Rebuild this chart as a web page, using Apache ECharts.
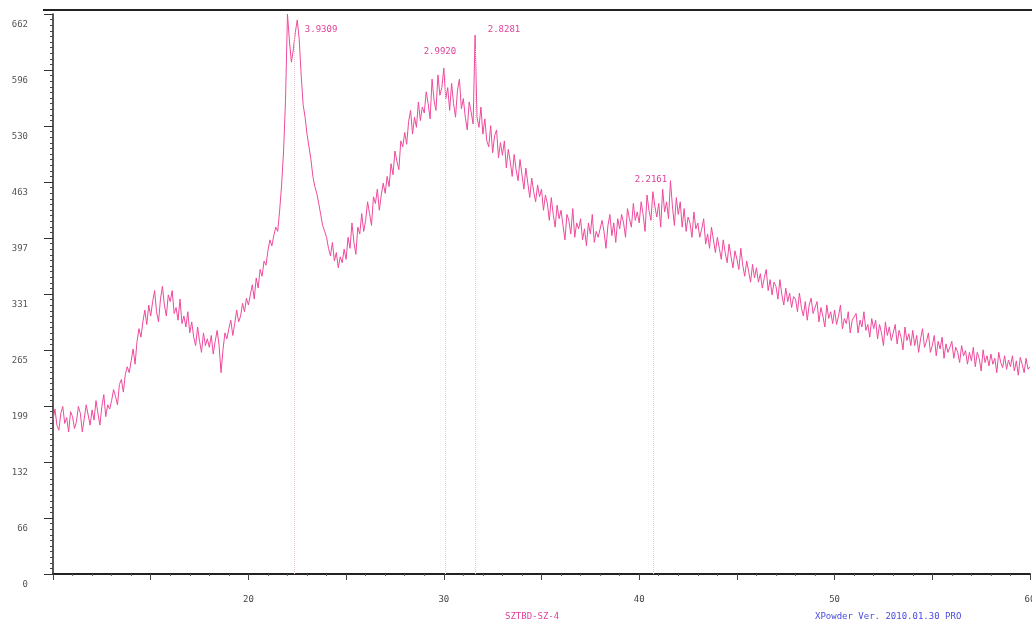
<!DOCTYPE html>
<html>
<head>
<meta charset="utf-8">
<script src="https://cdn.jsdelivr.net/npm/echarts@6/dist/echarts.min.js"></script>
<style>html,body{margin:0;padding:0;background:#fff}#c{width:1032px;height:630px}</style>
</head>
<body>
<div id="c"></div>
<script>
// 2-theta grid: start and step of the scan (degrees)
var twoThetaStart = 10;
var twoThetaStep = 0.1;
// intensity (counts), one value per 0.1 degree from 10.0 to 60.0
var intensity = [
182,195,176,170,190,198,178,185,168,192,
186,172,180,198,190,168,184,200,188,176,
194,182,205,190,176,198,212,186,200,195,
205,218,210,200,224,230,215,236,245,238,
252,266,248,275,290,280,298,312,295,318,
305,322,335,310,298,325,340,318,305,330,
322,335,308,315,300,325,296,305,292,310,
285,298,280,270,292,275,262,285,270,278,
268,282,260,275,288,270,238,265,285,278,
290,300,282,296,312,298,305,320,310,326,
318,330,342,325,350,338,360,352,370,365,
382,395,388,400,410,405,430,460,500,560,
662,630,605,620,640,655,632,590,555,540,
520,505,490,470,458,450,438,425,412,405,
398,385,376,392,370,380,362,375,368,384,
372,398,385,415,392,378,410,402,426,405,
418,440,426,412,446,438,455,430,448,462,
450,470,458,485,472,500,488,478,512,505,
522,508,535,548,520,540,528,558,536,552,
545,570,556,538,585,560,548,590,566,575,
598,562,575,548,580,556,540,572,585,550,
562,540,525,558,546,532,637,540,528,552,
520,538,512,505,530,498,518,525,492,510,
495,512,480,502,488,470,496,478,465,490,
472,455,480,462,445,468,452,440,460,446,
455,430,448,438,418,445,425,410,436,420,
430,412,395,425,418,402,432,398,415,408,
420,395,408,388,415,402,425,392,405,398,
398,418,405,385,412,425,400,415,392,420,
408,425,415,398,432,420,410,438,418,428,
415,440,425,405,448,430,418,452,435,422,
438,410,455,428,440,420,465,435,412,445,
425,440,410,432,405,422,415,398,428,408,
415,398,408,420,390,402,385,410,395,380,
398,385,372,395,380,368,390,375,362,382,
372,360,385,365,352,370,358,345,366,350,
362,345,355,338,350,360,335,348,330,345,
340,325,348,330,318,338,322,332,315,328,
325,310,332,315,305,322,300,318,326,308,
310,322,298,315,305,292,318,302,310,296,
312,295,305,318,290,302,296,310,285,300,
298,308,285,300,292,310,288,295,280,302,
290,300,278,295,285,270,298,282,292,276,
285,295,272,288,280,265,292,276,284,270,
288,270,282,262,278,290,268,275,285,262,
270,282,258,275,266,280,255,272,262,268,
275,255,268,262,250,270,258,264,248,262,
252,268,245,262,255,240,265,250,258,246,
260,248,255,238,262,250,244,258,242,253,
245,258,240,252,235,256,248,238,255,242,
245
];
// identified peaks: position (2-theta), top of marker line (counts), d-spacing label
var peakPos = [22.35, 30.05, 31.6, 40.7];
var peakTop = [640, 590, 620, 440];
var peakLabels = ['3.9309', '2.9920', '2.8281', '2.2161'];
// label anchor points (2-theta, counts)
var labelPos = [[23.72, 643], [29.8, 617], [33.08, 643], [40.6, 466]];
// axis ticks
var xLabelValues = [20, 30, 40, 50, 60];
var yTickLabels = ['0','66','132','199','265','331','397','463','530','596','662'];
var sampleName = 'SZTBD-SZ-4';
var softwareName = 'XPowder Ver. 2010.01.30 PRO';

var data = intensity.map(function (v, i) {
  return [+(twoThetaStart + i * twoThetaStep).toFixed(2), v];
});

var markLines = peakPos.map(function (p, i) {
  return [{coord: [p, 0]}, {coord: [p, peakTop[i]]}];
});
var markPoints = labelPos.map(function (c, i) {
  return {coord: c, value: peakLabels[i]};
});

var chart = echarts.init(document.getElementById('c'), null, {renderer: 'canvas'});
chart.setOption({
  backgroundColor: '#ffffff',
  animation: false,
  grid: {left: 53, right: 2, top: 14, bottom: 56, containLabel: false, outerBoundsMode: 'none'},
  xAxis: {
    type: 'value', min: 10, max: 60, interval: 5,
    axisLine: {lineStyle: {color: '#222', width: 2}},
    axisTick: {show: true, length: 6, lineStyle: {color: '#444'}},
    minorTick: {show: true, splitNumber: 5, length: 2, lineStyle: {color: '#666'}},
    splitLine: {show: false},
    axisLabel: {
      color: '#444', fontFamily: 'DejaVu Sans Mono', fontSize: 9, margin: 21,
      showMaxLabel: true, hideOverlap: false,
      formatter: function (v) { return xLabelValues.indexOf(v) >= 0 ? String(v) : ''; }
    }
  },
  yAxis: {
    type: 'value', min: 0, max: 662, interval: 66.2,
    axisLine: {show: true, lineStyle: {color: '#222', width: 1.5}},
    axisTick: {show: true, length: 9, lineStyle: {color: '#333'}},
    minorTick: {show: true, splitNumber: 10, length: 3, lineStyle: {color: '#444'}},
    splitLine: {show: false},
    axisLabel: {
      color: '#555', fontFamily: 'DejaVu Sans Mono', fontSize: 9, margin: 25,
      verticalAlign: 'top', padding: [6, 0, 0, 0],
      formatter: function (v) { return yTickLabels[Math.round(v / 66.2)] || ''; }
    }
  },
  series: [{
    type: 'line',
    data: data,
    showSymbol: false,
    symbol: 'none',
    lineStyle: {color: '#ee4a9c', width: 1},
    markLine: {
      silent: true, symbol: 'none', label: {show: false},
      lineStyle: {color: '#e8c8d8', type: 'dotted', width: 1},
      data: markLines
    },
    markPoint: {
      symbol: 'circle', symbolSize: 1, itemStyle: {color: 'rgba(0,0,0,0)'},
      label: {show: true, color: '#e0409a', fontFamily: 'DejaVu Sans Mono', fontSize: 9,
        formatter: function (p) { return p.value; }},
      data: markPoints
    }
  }],
  graphic: [
    {type: 'line', shape: {x1: 43, y1: 10, x2: 1032, y2: 10}, style: {stroke: '#222', lineWidth: 2}},
    {type: 'text', left: 505, top: 612, style: {text: sampleName, fill: '#e0409a', font: '9px "DejaVu Sans Mono"'}},
    {type: 'text', left: 815, top: 612, style: {text: softwareName, fill: '#4a4ae0', font: '9px "DejaVu Sans Mono"'}}
  ]
});
</script>
</body>
</html>
